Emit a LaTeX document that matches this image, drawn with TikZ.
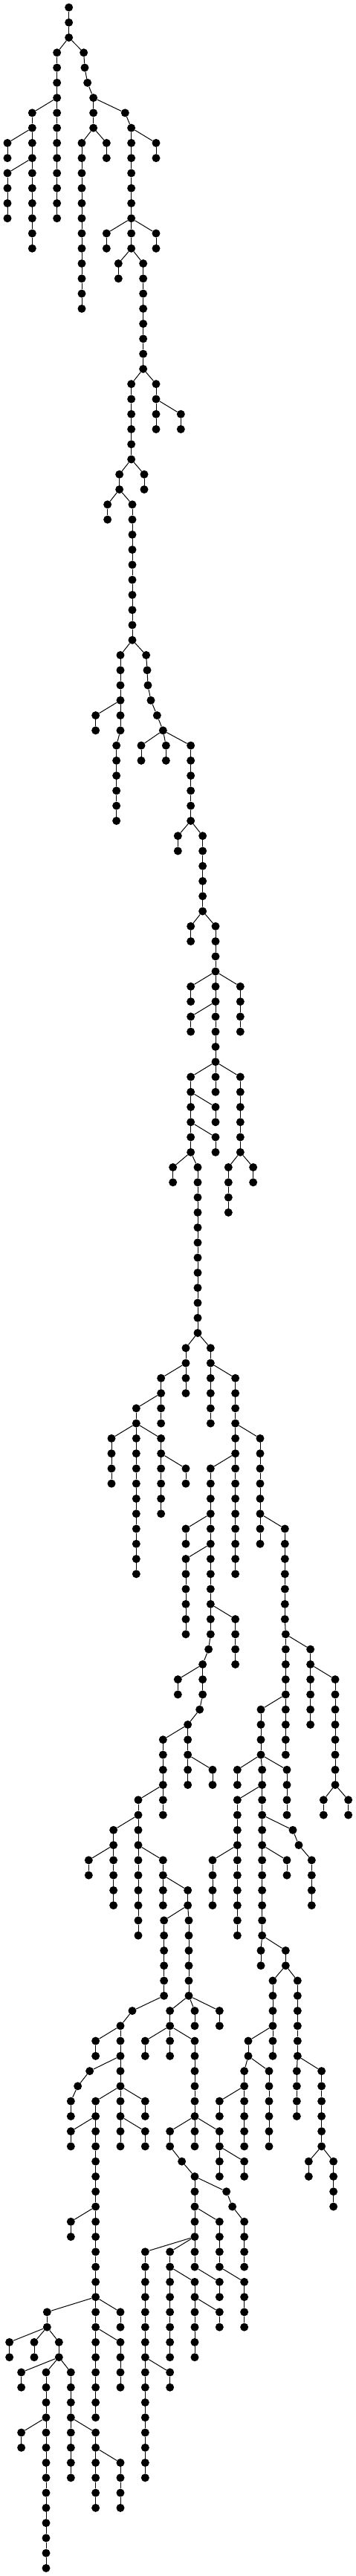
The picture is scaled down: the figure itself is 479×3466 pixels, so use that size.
\documentclass[tikz,border=0pt]{standalone}
\begin{document}
\tikzset{dot/.style={circle,fill=black,inner sep=0pt,minimum size=11pt},
edge/.style={line width=1pt,black}}
\newcommand\ch[3]{%
  \foreach \k in {#2,...,#3}{\node[dot] (n#1-\k) at ({#1/3},{10+20.267*\k}) {};}%
  \foreach \k [remember=\k as \p (initially #2)] in {#2,...,#3}{\ifnum\k>#2\relax\draw[edge] (n#1-\p) -- (n#1-\k);\fi}%
}
\newcommand\ed[4]{\draw[edge] (n#1-#2) -- (n#3-#4);}
\begin{tikzpicture}[x=1pt,y=-1pt]
\useasboundingbox (0,0) rectangle (479,3466);
\ch{278}{0}{2}
\ch{230}{3}{14}
\ch{130}{7}{16}
\ch{30}{9}{10}
\ch{30}{11}{14}
\ch{338}{3}{3}
\ch{342}{4}{4}
\ch{353}{5}{5}
\ch{377}{6}{8}
\ch{330}{9}{20}
\ch{430}{9}{10}
\ch{505}{7}{7}
\ch{530}{8}{16}
\ch{630}{9}{10}
\ch{430}{15}{16}
\ch{630}{15}{16}
\ch{478}{17}{18}
\ch{578}{17}{24}
\ch{630}{25}{28}
\ch{730}{27}{28}
\ch{530}{25}{30}
\ch{582}{31}{32}
\ch{482}{31}{32}
\ch{434}{33}{34}
\ch{534}{33}{42}
\ch{486}{43}{48}
\ch{386}{47}{48}
\ch{470}{49}{54}
\ch{590}{43}{43}
\ch{594}{44}{44}
\ch{597}{45}{45}
\ch{609}{46}{46}
\ch{634}{47}{47}
\ch{658}{48}{48}
\ch{570}{49}{50}
\ch{670}{49}{50}
\ch{770}{49}{54}
\ch{718}{55}{56}
\ch{818}{55}{60}
\ch{770}{61}{62}
\ch{870}{61}{72}
\ch{770}{65}{66}
\ch{970}{65}{68}
\ch{770}{67}{68}
\ch{770}{71}{76}
\ch{970}{71}{76}
\ch{870}{73}{74}
\ch{870}{75}{76}
\ch{698}{77}{78}
\ch{798}{77}{88}
\ch{922}{77}{80}
\ch{1022}{77}{78}
\ch{750}{89}{92}
\ch{650}{91}{94}
\ch{550}{93}{104}
\ch{450}{95}{98}
\ch{650}{95}{100}
\ch{750}{97}{98}
\ch{850}{89}{94}
\ch{950}{91}{104}
\ch{1050}{95}{102}
\ch{850}{97}{108}
\ch{750}{101}{102}
\ch{750}{103}{108}
\ch{950}{107}{110}
\ch{842}{109}{109}
\ch{818}{110}{112}
\ch{718}{111}{112}
\ch{806}{113}{113}
\ch{758}{114}{118}
\ch{1150}{101}{107}
\ch{1153}{108}{116}
\ch{1253}{109}{114}
\ch{1353}{111}{118}
\ch{1053}{113}{116}
\ch{658}{115}{120}
\ch{858}{117}{118}
\ch{558}{119}{128}
\ch{458}{121}{126}
\ch{358}{123}{124}
\ch{658}{123}{126}
\ch{758}{125}{126}
\ch{662}{127}{132}
\ch{762}{127}{132}
\ch{958}{117}{118}
\ch{1058}{117}{128}
\ch{1158}{117}{120}
\ch{958}{119}{128}
\ch{858}{123}{126}
\ch{1182}{121}{121}
\ch{1206}{122}{122}
\ch{1258}{123}{126}
\ch{1158}{123}{124}
\ch{1306}{119}{120}
\ch{1406}{119}{120}
\ch{1053}{129}{130}
\ch{1153}{129}{130}
\ch{1101}{131}{136}
\ch{1201}{131}{136}
\ch{1002}{135}{136}
\ch{986}{137}{142}
\ch{1086}{137}{142}
\ch{886}{139}{140}
\ch{1198}{137}{140}
\ch{1298}{137}{142}
\ch{1246}{143}{144}
\ch{1346}{143}{146}
\ch{534}{133}{133}
\ch{486}{134}{142}
\ch{386}{135}{136}
\ch{362}{137}{137}
\ch{314}{138}{138}
\ch{286}{139}{140}
\ch{386}{139}{160}
\ch{586}{139}{140}
\ch{286}{141}{142}
\ch{586}{141}{142}
\ch{286}{147}{148}
\ch{190}{153}{154}
\ch{486}{153}{154}
\ch{486}{155}{158}
\ch{38}{155}{156}
\ch{138}{155}{156}
\ch{238}{155}{156}
\ch{86}{157}{158}
\ch{186}{157}{170}
\ch{286}{157}{164}
\ch{86}{161}{162}
\ch{386}{161}{166}
\ch{486}{163}{166}
\ch{686}{133}{136}
\ch{786}{133}{134}
\ch{886}{133}{134}
\ch{586}{135}{136}
\ch{786}{135}{142}
\ch{686}{141}{142}
\ch{886}{141}{144}
\ch{986}{143}{144}
\ch{734}{143}{143}
\ch{786}{144}{150}
\ch{914}{145}{145}
\ch{938}{146}{146}
\ch{986}{147}{150}
\ch{886}{147}{150}
\ch{586}{149}{164}
\ch{686}{149}{156}
\ch{786}{151}{156}
\ch{886}{151}{152}
\ch{986}{151}{154}
\ch{886}{153}{154}
\ch{686}{157}{158}
\ed{278}{2}{230}{3}
\ed{278}{2}{338}{3}
\ed{230}{6}{130}{7}
\ed{130}{8}{30}{9}
\ed{130}{10}{30}{11}
\ed{338}{3}{342}{4}
\ed{342}{4}{353}{5}
\ed{353}{5}{377}{6}
\ed{377}{8}{330}{9}
\ed{377}{8}{430}{9}
\ed{377}{6}{505}{7}
\ed{505}{7}{530}{8}
\ed{530}{8}{630}{9}
\ed{530}{14}{430}{15}
\ed{530}{14}{630}{15}
\ed{530}{16}{478}{17}
\ed{530}{16}{578}{17}
\ed{578}{24}{630}{25}
\ed{630}{26}{730}{27}
\ed{578}{24}{530}{25}
\ed{530}{30}{582}{31}
\ed{530}{30}{482}{31}
\ed{482}{32}{434}{33}
\ed{482}{32}{534}{33}
\ed{534}{42}{486}{43}
\ed{486}{46}{386}{47}
\ed{486}{48}{470}{49}
\ed{534}{42}{590}{43}
\ed{590}{43}{594}{44}
\ed{594}{44}{597}{45}
\ed{597}{45}{609}{46}
\ed{609}{46}{634}{47}
\ed{634}{47}{658}{48}
\ed{658}{48}{570}{49}
\ed{658}{48}{670}{49}
\ed{658}{48}{770}{49}
\ed{770}{54}{718}{55}
\ed{770}{54}{818}{55}
\ed{818}{60}{770}{61}
\ed{818}{60}{870}{61}
\ed{870}{64}{770}{65}
\ed{870}{64}{970}{65}
\ed{870}{66}{770}{67}
\ed{870}{70}{770}{71}
\ed{870}{70}{970}{71}
\ed{770}{72}{870}{73}
\ed{770}{74}{870}{75}
\ed{770}{76}{698}{77}
\ed{770}{76}{798}{77}
\ed{970}{76}{922}{77}
\ed{970}{76}{1022}{77}
\ed{798}{88}{750}{89}
\ed{750}{90}{650}{91}
\ed{650}{92}{550}{93}
\ed{550}{94}{450}{95}
\ed{550}{94}{650}{95}
\ed{650}{96}{750}{97}
\ed{798}{88}{850}{89}
\ed{850}{90}{950}{91}
\ed{950}{94}{1050}{95}
\ed{950}{96}{850}{97}
\ed{850}{100}{750}{101}
\ed{850}{102}{750}{103}
\ed{850}{106}{950}{107}
\ed{850}{108}{842}{109}
\ed{842}{109}{818}{110}
\ed{818}{110}{718}{111}
\ed{818}{112}{806}{113}
\ed{806}{113}{758}{114}
\ed{1050}{100}{1150}{101}
\ed{1150}{107}{1153}{108}
\ed{1153}{108}{1253}{109}
\ed{1253}{110}{1353}{111}
\ed{1153}{112}{1053}{113}
\ed{758}{114}{658}{115}
\ed{758}{116}{858}{117}
\ed{658}{118}{558}{119}
\ed{558}{120}{458}{121}
\ed{458}{122}{358}{123}
\ed{558}{122}{658}{123}
\ed{658}{124}{758}{125}
\ed{758}{126}{662}{127}
\ed{758}{126}{762}{127}
\ed{1053}{116}{958}{117}
\ed{1053}{116}{1058}{117}
\ed{1053}{116}{1158}{117}
\ed{1058}{118}{958}{119}
\ed{958}{122}{858}{123}
\ed{1058}{120}{1182}{121}
\ed{1182}{121}{1206}{122}
\ed{1206}{122}{1258}{123}
\ed{1058}{122}{1158}{123}
\ed{1353}{118}{1306}{119}
\ed{1353}{118}{1406}{119}
\ed{1058}{128}{1053}{129}
\ed{1058}{128}{1153}{129}
\ed{1153}{130}{1101}{131}
\ed{1153}{130}{1201}{131}
\ed{1101}{134}{1002}{135}
\ed{1002}{136}{986}{137}
\ed{1002}{136}{1086}{137}
\ed{986}{138}{886}{139}
\ed{1201}{136}{1198}{137}
\ed{1201}{136}{1298}{137}
\ed{1298}{142}{1246}{143}
\ed{1298}{142}{1346}{143}
\ed{662}{132}{534}{133}
\ed{534}{133}{486}{134}
\ed{486}{134}{386}{135}
\ed{486}{136}{362}{137}
\ed{362}{137}{314}{138}
\ed{314}{138}{286}{139}
\ed{486}{138}{386}{139}
\ed{486}{138}{586}{139}
\ed{386}{140}{286}{141}
\ed{486}{140}{586}{141}
\ed{386}{146}{286}{147}
\ed{386}{152}{190}{153}
\ed{386}{152}{486}{153}
\ed{386}{154}{486}{155}
\ed{190}{154}{38}{155}
\ed{190}{154}{138}{155}
\ed{190}{154}{238}{155}
\ed{238}{156}{86}{157}
\ed{238}{156}{186}{157}
\ed{238}{156}{286}{157}
\ed{186}{160}{86}{161}
\ed{286}{160}{386}{161}
\ed{386}{162}{486}{163}
\ed{762}{132}{686}{133}
\ed{762}{132}{786}{133}
\ed{762}{132}{886}{133}
\ed{686}{134}{586}{135}
\ed{686}{134}{786}{135}
\ed{786}{140}{686}{141}
\ed{786}{140}{886}{141}
\ed{886}{142}{986}{143}
\ed{686}{142}{734}{143}
\ed{734}{143}{786}{144}
\ed{786}{144}{914}{145}
\ed{914}{145}{938}{146}
\ed{938}{146}{986}{147}
\ed{786}{146}{886}{147}
\ed{786}{148}{586}{149}
\ed{786}{148}{686}{149}
\ed{686}{150}{786}{151}
\ed{786}{150}{886}{151}
\ed{886}{150}{986}{151}
\ed{786}{152}{886}{153}
\ed{586}{156}{686}{157}
\end{tikzpicture}
\end{document}
